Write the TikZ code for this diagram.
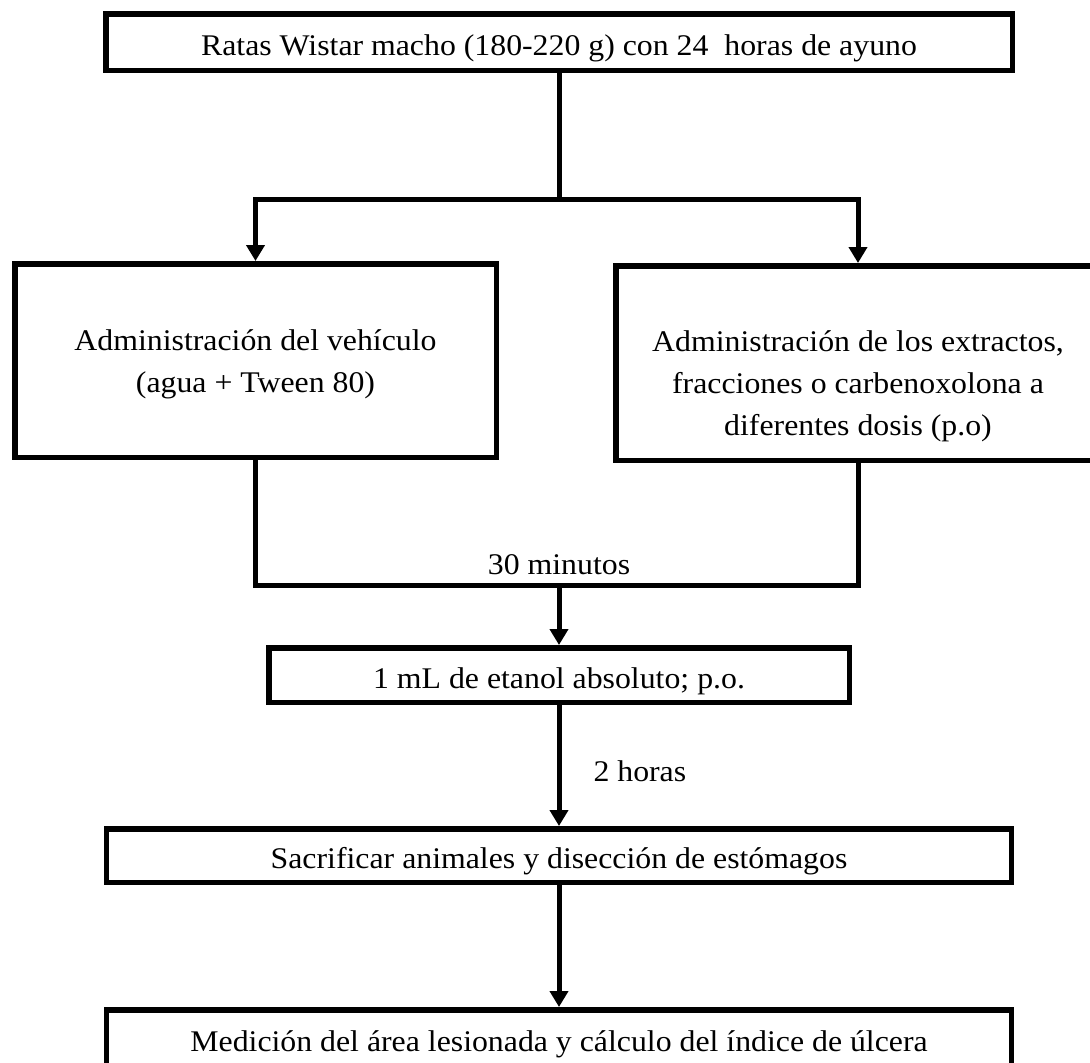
\documentclass[tikz,border=0pt]{standalone}
\usepackage{fontspec}
\setmainfont{Liberation Serif}[FakeStretch=1.06]
\usetikzlibrary{arrows.meta, positioning}

\begin{document}
\begin{tikzpicture}[x=1pt, y=-1pt,
    caja/.style={draw, rectangle, line width=5.5pt, align=center, inner sep=0pt},
    fila/.style={text height=26.5pt, text depth=0pt},
    linea/.style={line width=5pt},
    flecha/.style={line width=5pt, -{Triangle[length=16pt,width=18pt]}},
    font=\fontsize{30}{42}\selectfont]
    \useasboundingbox (0,0) rectangle (1090,1063);
            \draw (559,42) node[caja, fila, minimum width=906.5pt, minimum height=56.5pt] (ratas) {Ratas Wistar macho (180-220 g) con 24~ horas de ayuno};
            \draw (255.5,360.5) node[caja, minimum width=481.5pt, minimum height=193.5pt,
                label={[name=vehiculotexto, align=center, yshift=-4pt]center:{Administración del vehículo\\(agua + Tween 80)}}] (vehiculo) {};
            \draw (858,363) node[caja, minimum width=484.5pt, minimum height=194.5pt,
                label={[name=extractostexto, align=center, yshift=-23pt]center:{Administración de los extractos,\\fracciones o carbenoxolona a\\diferentes dosis (p.o)}}] (extractos) {};
            \draw (559,675) node[caja, fila, minimum width=580.5pt, minimum height=54.5pt] (etanol) {1 mL de etanol absoluto; p.o.};
            \draw (559,855.5) node[caja, fila, minimum width=905pt, minimum height=53.5pt] (sacrificio) {Sacrificar animales y disección de estómagos};
            \draw (559,1038) node[caja, fila, minimum width=905pt, minimum height=56.5pt] (medicion) {Medición del área lesionada y cálculo del índice de úlcera};
            \coordinate (bifurca) at (559,199);
            \coordinate (junta) at (559,585);
            \draw[linea] (ratas.south) -- (bifurca);
            \draw[flecha] (bifurca) -| (vehiculo.north);
            \draw[flecha] (bifurca) -| (extractos.north);
            \draw[linea] (vehiculo.south) |- (junta) -| (extractos.south);
            \draw (559,565) node (min30) {30 minutos};
            \draw[flecha] (junta) -- (etanol.north);
            \draw[flecha] (etanol.south) -- node[pos=0.55, right, inner sep=0pt, xshift=32pt] (horas) {2 horas} (sacrificio.north);
            \draw[flecha] (sacrificio.south) -- (medicion.north);
\end{tikzpicture}
\end{document}
